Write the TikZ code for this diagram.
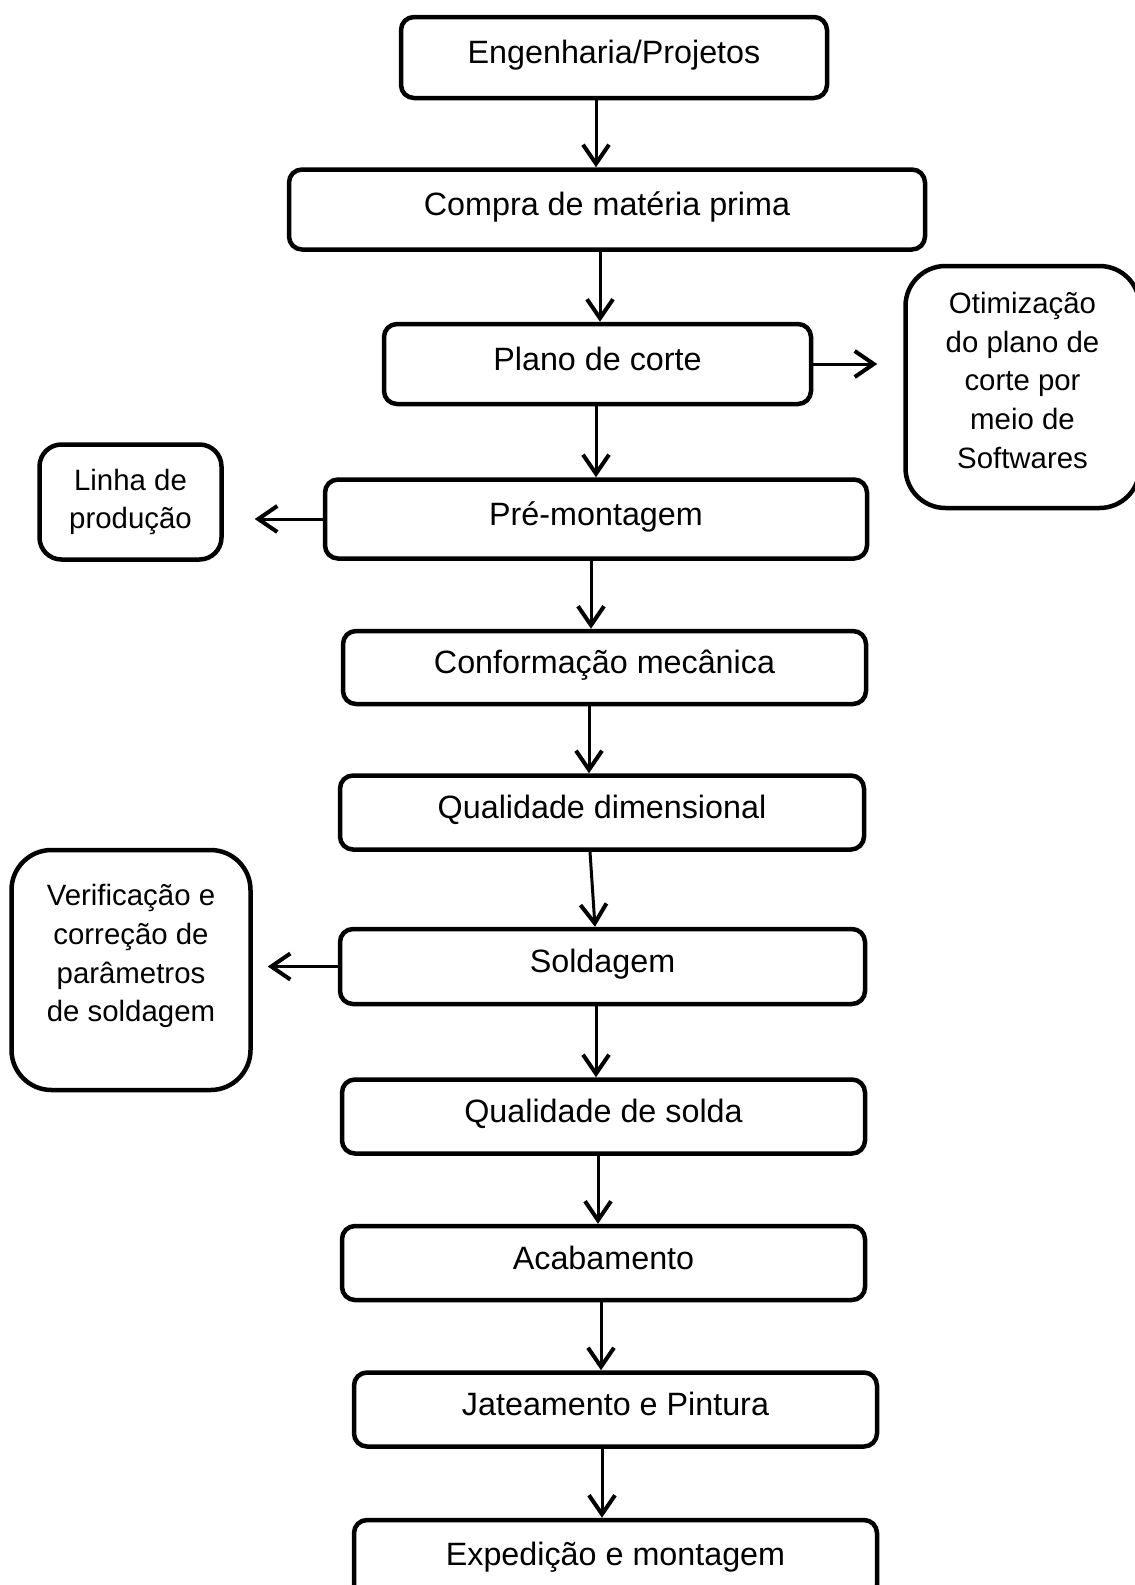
\documentclass[tikz,border=0pt]{standalone}
\usepackage{fontspec}
\setmainfont{Liberation Sans}
\usetikzlibrary{arrows.meta,positioning}
\tikzset{
    x=1pt, y=-1pt, % one unit is one pixel of the page
    every node/.style={font=\fontsize{32.3}{39}\selectfont, inner sep=0pt},
    stage/.style={draw, line width=4.5pt, rounded corners=13pt, text height=24pt, text depth=12pt}, % steps of the process
    note/.style={draw, line width=4.5pt, rounded corners=#1, align=center, font=\fontsize{29.4}{38.7}\selectfont}, % side remarks
    note/.default=40pt,
    flow/.style={line width=3pt, -{Straight Barb[length=19pt,width=26pt,line width=4pt]}},
}

\begin{document}
\begin{tikzpicture}
    \clip (0,0) rectangle (1135,1585);

    \node[stage, minimum width=426pt, minimum height=81pt] (eng) at (614,57.5) {Engenharia/Projetos};
    \node[stage, minimum width=636pt, minimum height=80pt, below=67pt of eng, xshift=-7pt] (compra) {Compra de matéria prima};
    \node[stage, minimum width=427pt, minimum height=80pt, below=70pt of compra, xshift=-9.5pt] (plano) {Plano de corte};
    \node[stage, minimum width=542pt, minimum height=79pt, below=71pt of plano, xshift=-1.5pt] (pre) {Pré-montagem};
    \node[stage, minimum width=523pt, minimum height=73pt, below=68pt of pre, xshift=8.5pt] (conf) {Conformação mecânica};
    \node[stage, minimum width=524pt, minimum height=74pt, below=67pt of conf, xshift=-2.5pt] (qdim) {Qualidade dimensional};
    \node[stage, minimum width=525pt, minimum height=75pt, below=75pt of qdim, xshift=0.5pt] (sold) {Soldagem};
    \node[stage, minimum width=523pt, minimum height=74pt, below=71pt of sold, xshift=1pt] (qsol) {Qualidade de solda};
    \node[stage, minimum width=523pt, minimum height=74pt, below=68pt of qsol] (acab) {Acabamento};
    \node[stage, minimum width=523pt, minimum height=74pt, below=68pt of acab, xshift=12pt] (jat) {Jateamento e Pintura};
    \node[stage, minimum width=523pt, minimum height=78pt, below=69pt of jat] (exp) {Expedição e montagem};

    \node[note=22pt, minimum width=182pt, minimum height=115pt, left=99pt of pre, yshift=17pt] (linha) {Linha de\\produção};
    \node[note, minimum width=234pt, minimum height=242pt, right=90pt of plano, yshift=-23pt] (otim) {\raisebox{4pt}[\height][\depth]{\begin{tabular}{@{}c@{}}Otimização\\do plano de\\corte por\\meio de\\Softwares\end{tabular}}};
    \node[note, minimum width=239pt, minimum height=240pt, left=85pt of sold, yshift=-3.5pt] (verif) {\raisebox{14pt}[\height][\depth]{\begin{tabular}{@{}c@{}}Verificação e\\correção de\\parâmetros\\de soldagem\end{tabular}}};

    \draw[flow] ([xshift=-18pt]eng.south) -- ([xshift=-11pt]compra.north);
    \draw[flow] ([xshift=-7pt]compra.south) -- ([xshift=2.5pt]plano.north);
    \draw[flow] ([xshift=-1.5pt]plano.south) -- (pre.north);
    \draw[flow] ([xshift=-5pt]pre.south) -- ([xshift=-13.5pt]conf.north);
    \draw[flow] ([xshift=-15.5pt]conf.south) -- ([xshift=-13pt]qdim.north);
    \draw[flow] ([xshift=-12pt]qdim.south) -- ([xshift=-7.5pt]sold.north);
    \draw[flow] ([xshift=-6.5pt]sold.south) -- ([xshift=-7.5pt]qsol.north);
    \draw[flow] ([xshift=-5.5pt]qsol.south) -- ([xshift=-5.5pt]acab.north);
    \draw[flow] ([xshift=-2.5pt]acab.south) -- ([xshift=-14.5pt]jat.north);
    \draw[flow] ([xshift=-13.5pt]jat.south) -- ([xshift=-13.5pt]exp.north);

    \draw[flow, shorten >=26pt] (plano.east) -- (plano.east -| otim.west);
    \draw[flow, shorten >=31pt] (pre.west) -- (pre.west -| linha.east);
    \draw[flow, shorten >=15pt] (sold.west) -- (sold.west -| verif.east);
\end{tikzpicture}
\end{document}
